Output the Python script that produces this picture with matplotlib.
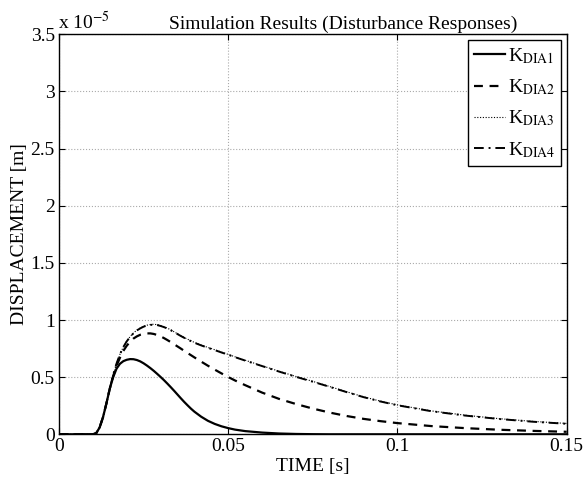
import matplotlib
matplotlib.use('Agg')
import matplotlib.pyplot as plt

plt.rcParams['font.family'] = ['Liberation Serif', 'DejaVu Serif']
plt.rcParams['mathtext.fontset'] = 'stix'

# time [s]
t = [0, 0.010, 0.011, 0.012, 0.013, 0.014, 0.015, 0.016, 0.017, 0.018, 0.019,
     0.020, 0.021, 0.022, 0.023, 0.024, 0.025, 0.026, 0.027, 0.028, 0.029,
     0.030, 0.031, 0.032, 0.033, 0.034, 0.035, 0.036, 0.037, 0.038, 0.039,
     0.040, 0.042, 0.044, 0.046, 0.048, 0.050, 0.052, 0.055, 0.060, 0.065,
     0.070, 0.075, 0.080, 0.085, 0.090, 0.095, 0.100, 0.110, 0.120, 0.130,
     0.140, 0.150]

# displacement, in units of 1e-5 m
k_dia1 = [0, 0, 0.01, 0.06, 0.15, 0.27, 0.40, 0.50, 0.575, 0.617, 0.640,
          0.652, 0.658, 0.657, 0.650, 0.638, 0.621, 0.601, 0.579, 0.555, 0.529,
          0.502, 0.474, 0.444, 0.413, 0.381, 0.348, 0.315, 0.283, 0.253, 0.224,
          0.198, 0.154, 0.118, 0.091, 0.070, 0.054, 0.041, 0.028, 0.015, 0.007,
          0.003, 0.001, 0, 0, 0, 0, 0, 0, 0, 0,
          0, 0]
k_dia2 = [0, 0, 0.01, 0.06, 0.15, 0.27, 0.40, 0.51, 0.60, 0.67, 0.73,
          0.775, 0.81, 0.838, 0.857, 0.871, 0.879, 0.883, 0.883, 0.878, 0.869,
          0.857, 0.842, 0.825, 0.807, 0.788, 0.769, 0.750, 0.730, 0.711, 0.692,
          0.673, 0.636, 0.600, 0.566, 0.533, 0.501, 0.471, 0.430, 0.365, 0.310,
          0.265, 0.225, 0.190, 0.160, 0.135, 0.115, 0.098, 0.072, 0.054, 0.040,
          0.030, 0.022]
k_dia3 = [0, 0, 0.01, 0.06, 0.15, 0.27, 0.40, 0.52, 0.62, 0.70, 0.765,
          0.815, 0.855, 0.887, 0.912, 0.930, 0.945, 0.955, 0.961, 0.963, 0.959,
          0.951, 0.941, 0.929, 0.914, 0.897, 0.880, 0.863, 0.847, 0.832, 0.818,
          0.804, 0.781, 0.760, 0.740, 0.719, 0.699, 0.678, 0.648, 0.600, 0.552,
          0.506, 0.463, 0.418, 0.372, 0.328, 0.290, 0.257, 0.205, 0.167, 0.137,
          0.113, 0.095]
k_dia4 = [0, 0, 0.01, 0.06, 0.15, 0.27, 0.40, 0.52, 0.62, 0.70, 0.764,
          0.813, 0.853, 0.884, 0.909, 0.927, 0.942, 0.952, 0.957, 0.959, 0.956,
          0.948, 0.938, 0.926, 0.911, 0.894, 0.877, 0.860, 0.844, 0.829, 0.815,
          0.801, 0.778, 0.757, 0.737, 0.716, 0.696, 0.675, 0.645, 0.597, 0.549,
          0.503, 0.460, 0.415, 0.369, 0.325, 0.287, 0.254, 0.202, 0.164, 0.134,
          0.110, 0.092]

labels = ['K$_{\\mathrm{DIA1}}$', 'K$_{\\mathrm{DIA2}}$', 'K$_{\\mathrm{DIA3}}$', 'K$_{\\mathrm{DIA4}}$']
xticks = [0, 0.05, 0.1, 0.15]
xticklabels = ['0', '0.05', '0.1', '0.15']
yticks = [0, 0.5, 1, 1.5, 2, 2.5, 3, 3.5]
yticklabels = ['0', '0.5', '1', '1.5', '2', '2.5', '3', '3.5']

fig = plt.figure(figsize=(5.85, 4.8), dpi=100)
ax = fig.add_axes([0.1009, 0.0952, 0.8678, 0.8333])

ax.plot(t, k_dia1, color='black', linestyle='-', linewidth=1.6, label=labels[0])
ax.plot(t, k_dia2, color='black', linestyle=(0, (4, 3)), linewidth=1.6, label=labels[1])
ax.plot(t, k_dia3, color='black', linestyle=(0, (1, 1.5)), linewidth=0.8, label=labels[2])
ax.plot(t, k_dia4, color='black', linestyle=(0, (5, 2.5, 1, 2.5)), linewidth=1.4, label=labels[3])

ax.set_xlim(0, 0.15)
ax.set_ylim(0, 3.5)
ax.set_xticks(xticks)
ax.set_xticklabels(xticklabels)
ax.set_yticks(yticks)
ax.set_yticklabels(yticklabels)
ax.tick_params(direction='in', top=True, right=True, labelsize=14, length=4, pad=3)
ax.grid(True, linestyle=':', color='#aaaaaa', linewidth=0.8)
for s in ax.spines.values():
    s.set_linewidth(1.0)

fig.text(343 / 585, (480 - 29) / 480, 'Simulation Results (Disturbance Responses)',
         fontsize=14, ha='center', va='baseline')
ax.set_xlabel('TIME [s]', fontsize=14, labelpad=2)
ax.set_ylabel('DISPLACEMENT [m]', fontsize=14, labelpad=2)
fig.text(58 / 585, (480 - 29) / 480, 'x 10$^{-5}$', fontsize=14,
         ha='left', va='baseline')

leg = ax.legend(loc='upper right', fontsize=14, handlelength=1.6, handletextpad=0.15,
                borderaxespad=0.3, labelspacing=0.6, fancybox=False, framealpha=1,
                borderpad=0.3)
leg.get_frame().set_edgecolor('black')
leg.get_frame().set_linewidth(1.0)

fig.savefig('out.png', dpi=100)
